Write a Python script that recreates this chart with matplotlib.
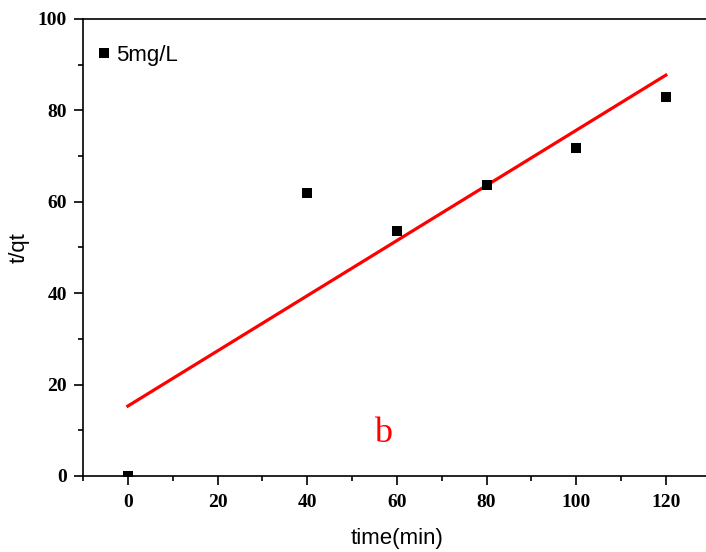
import matplotlib
matplotlib.use("Agg")
import matplotlib.pyplot as plt
from matplotlib.ticker import MultipleLocator

# ================= DATA =================
time_min = [0, 40, 60, 80, 100, 120]
t_over_qt = [0.0, 61.9, 53.5, 63.6, 71.7, 82.9]

fit_x = [0, 120]
fit_y = [15.3, 87.7]

SERIES_LABEL = "5mg/L"
PANEL_TAG = "b"
# =========================================

fig = plt.figure(figsize=(7.06, 5.52), dpi=100)
ax = fig.add_axes([0.1176, 0.1377, 0.889, 0.828])

ax.plot(time_min, t_over_qt, "s", color="black", ms=7.8, mew=0,
        label=SERIES_LABEL, clip_on=True, zorder=3)
ax.plot(fit_x, fit_y, color="red", lw=2.3, zorder=2)

ax.set_xlim(-10, 130)
ax.set_ylim(0, 100)
ax.xaxis.set_major_locator(MultipleLocator(20))
ax.xaxis.set_minor_locator(MultipleLocator(10))
ax.yaxis.set_major_locator(MultipleLocator(20))
ax.yaxis.set_minor_locator(MultipleLocator(10))

for side in ["left", "bottom", "top"]:
    ax.spines[side].set_linewidth(1.2)
ax.spines["right"].set_visible(False)

ax.tick_params(which="major", direction="out", length=6.5, width=1.2,
               top=False, right=False)
ax.tick_params(which="minor", direction="out", length=3.5, width=1.2,
               top=False, right=False)
ax.tick_params(axis="x", which="major", pad=6.5)
ax.tick_params(axis="y", which="major", pad=5)

for lab in ax.get_xticklabels() + ax.get_yticklabels():
    lab.set_fontfamily("Liberation Serif")
    lab.set_fontweight("bold")
    lab.set_fontsize(14)

ax.set_xlabel("time(min)", fontfamily="Liberation Sans", fontsize=16, labelpad=12)
ax.set_ylabel("t/qt", fontfamily="Liberation Sans", fontsize=16, labelpad=6)

ax.text(57, 9.3, PANEL_TAG, color="red", fontfamily="Liberation Serif",
        fontsize=26, ha="center", va="center")

leg = ax.legend(loc="upper left", frameon=False, handlelength=0.5,
                handletextpad=0.3, borderaxespad=0.3,
                prop={"family": "Liberation Sans", "size": 16},
                bbox_to_anchor=(0.0, 0.978))

fig.savefig("out.png", dpi=100)
